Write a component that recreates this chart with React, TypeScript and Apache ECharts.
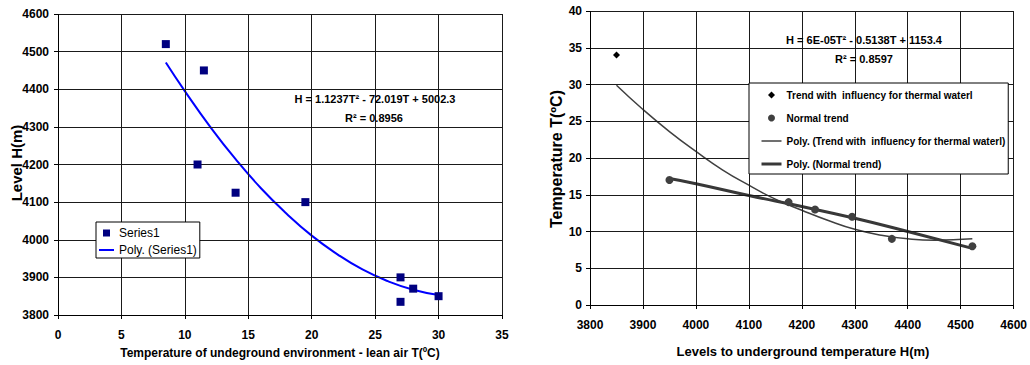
import React, { useEffect, useRef } from "react";
import * as echarts from "echarts";

// ---------- Left chart data ----------
const leftTemp = [8.5, 11.5, 11, 14, 19.5, 27, 27, 28, 30];
const leftLevel = [4520, 4450, 4200, 4125, 4100, 3900, 3835, 3870, 3850];
const leftTrendT = [8.5, 10, 12, 14, 16, 18, 20, 22, 24, 26, 28, 30];
const leftTrendH = [4471, 4395, 4300, 4214, 4137, 4070, 4011, 3962, 3921, 3890, 3867, 3853];
const leftXTicks = [0, 35, 5];
const leftYTicks = [3800, 4600, 100];

// ---------- Right chart data ----------
const thermalLevel = [3850];
const thermalTemp = [34];
const normalLevel = [3950, 4175, 4225, 4295, 4370, 4522];
const normalTemp = [17, 14, 13, 12, 9, 8];
const thermalTrendH = [3850, 3900, 3950, 4000, 4050, 4100, 4150, 4200, 4250, 4300, 4350, 4400, 4450, 4522];
const thermalTrendT = [29.9, 26.6, 23.6, 20.9, 18.4, 16.3, 14.4, 12.9, 11.5, 10.3, 9.5, 9.0, 8.8, 9.0];
const normalTrendH = [3950, 4000, 4100, 4200, 4300, 4400, 4522];
const normalTrendT = [17.2, 16.5, 14.9, 13.4, 11.8, 10.0, 7.7];
const rightXTicks = [3800, 4600, 100];
const rightYTicks = [0, 40, 5];

const FONT = "'Liberation Sans', Arial, sans-serif";
const GRID_COLOR = "#1a1a1a";
const AXIS_COLOR = "#000000";

const zip = (a: number[], b: number[]) => a.map((v, i) => [v, b[i]]);

function axis(gridIndex: number, ticks: number[], labelMargin: number) {
  return {
    type: "value",
    gridIndex,
    z: 4,
    min: ticks[0],
    max: ticks[1],
    interval: ticks[2],
    axisLine: { show: true, onZero: false, lineStyle: { color: AXIS_COLOR, width: 1, opacity: 1 } },
    axisTick: { show: true, length: 4, lineStyle: { color: AXIS_COLOR, opacity: 1 } },
    axisLabel: {
      margin: labelMargin,
      fontSize: 12,
      fontWeight: "bold",
      color: "#000",
      fontFamily: FONT,
      formatter: (v: number) => String(v),
    },
    splitLine: { show: true, lineStyle: { color: GRID_COLOR, width: 1, opacity: 1 } },
  };
}

const hiddenSymbol = { color: "rgba(0,0,0,0)", borderWidth: 0, opacity: 0 };
const SQUARE = "path://M0,0L10,0L10,10L0,10Z";
const DIAMOND = "path://M5,0L10,5L5,10L0,5Z";

export default function App() {
  const ref = useRef<HTMLDivElement>(null);
  useEffect(() => {
    if (!ref.current) return;
    const chart = echarts.init(ref.current, undefined, { renderer: "svg" });
    const boldText = (text: string, x: number, y: number, size: number, rot = 0) => ({
      type: "text",
      x,
      y,
      rotation: rot,
      z: 10,
      style: {
        text,
        fill: "#000",
        font: `bold ${size}px ${FONT}`,
        align: "center",
        verticalAlign: "middle",
      },
    });
    const option = {
      animation: false,
      backgroundColor: "#fff",
      grid: [
        { left: 58, top: 14, width: 444, height: 301 },
        { left: 590, top: 11, width: 426, height: 294 },
      ],
      xAxis: [axis(0, leftXTicks, 14), axis(1, rightXTicks, 14)],
      yAxis: [axis(0, leftYTicks, 9), axis(1, rightYTicks, 8)],
      legend: [
        {
          data: [
            { name: "Series1", icon: SQUARE },
            { name: "Poly. (Series1)", itemStyle: hiddenSymbol, lineStyle: { width: 2 } },
          ],
          orient: "vertical",
          left: 96,
          top: 222,
          z: 10,
          padding: [5, 3, 2, 2],
          itemGap: 5,
          itemWidth: 15,
          itemHeight: 7,
          borderColor: "#000",
          borderWidth: 1,
          backgroundColor: "#fff",
          textStyle: { fontSize: 12, color: "#000", fontFamily: FONT },
        },
        {
          data: [
            { name: "Trend with  influency for thermal waterl", icon: DIAMOND },
            { name: "Normal trend", icon: "circle" },
            {
              name: "Poly. (Trend with  influency for thermal waterl)",
              itemStyle: hiddenSymbol,
              lineStyle: { width: 1.5 },
            },
            { name: "Poly. (Normal trend)", itemStyle: hiddenSymbol, lineStyle: { width: 3 } },
          ],
          orient: "vertical",
          left: 749,
          top: 83,
          z: 10,
          padding: [7, 3, 5, 11],
          itemGap: 13,
          itemWidth: 20,
          itemHeight: 7,
          borderColor: "#000",
          borderWidth: 1,
          backgroundColor: "#fff",
          textStyle: { fontSize: 10, fontWeight: "bold", color: "#000", fontFamily: FONT },
        },
      ],
      series: [
        {
          name: "Series1",
          type: "scatter",
          xAxisIndex: 0,
          yAxisIndex: 0,
          symbol: "rect",
          symbolSize: 8,
          itemStyle: { color: "#000080", opacity: 1 },
          data: zip(leftTemp, leftLevel),
          z: 5,
        },
        {
          name: "Poly. (Series1)",
          type: "line",
          xAxisIndex: 0,
          yAxisIndex: 0,
          symbol: "none",
          smooth: true,
          lineStyle: { color: "#0000ff", width: 2, opacity: 1 },
          itemStyle: { color: "#0000ff" },
          data: zip(leftTrendT, leftTrendH),
          z: 3,
        },
        {
          name: "Trend with  influency for thermal waterl",
          type: "scatter",
          xAxisIndex: 1,
          yAxisIndex: 1,
          symbol: "diamond",
          symbolSize: 7,
          itemStyle: { color: "#000", opacity: 1 },
          data: zip(thermalLevel, thermalTemp),
          z: 5,
        },
        {
          name: "Normal trend",
          type: "scatter",
          xAxisIndex: 1,
          yAxisIndex: 1,
          symbol: "circle",
          symbolSize: 8,
          itemStyle: { color: "#404040", opacity: 1 },
          data: zip(normalLevel, normalTemp),
          z: 5,
        },
        {
          name: "Poly. (Trend with  influency for thermal waterl)",
          type: "line",
          xAxisIndex: 1,
          yAxisIndex: 1,
          symbol: "none",
          smooth: true,
          lineStyle: { color: "#404040", width: 1.5, opacity: 1 },
          itemStyle: { color: "#404040" },
          data: zip(thermalTrendH, thermalTrendT),
          z: 3,
        },
        {
          name: "Poly. (Normal trend)",
          type: "line",
          xAxisIndex: 1,
          yAxisIndex: 1,
          symbol: "none",
          smooth: true,
          lineStyle: { color: "#383838", width: 3, opacity: 1 },
          itemStyle: { color: "#383838" },
          data: zip(normalTrendH, normalTrendT),
          z: 3,
        },
      ],
      graphic: [
        boldText("Temperature of undeground environment - lean air T(ºC)", 280, 353, 12),
        boldText("Level H(m)", 16, 163, 15, Math.PI / 2),
        boldText("H = 1.1237T² - 72.019T + 5002.3", 375, 99, 11),
        boldText("R² = 0.8956", 374, 118, 11),
        boldText("Levels to underground temperature H(m)", 803, 351, 13),
        boldText("Temperature T(ºC)", 556, 159, 16, Math.PI / 2),
        boldText("H = 6E-05T² - 0.5138T + 1153.4", 864, 40, 11),
        boldText("R² = 0.8597", 864, 59, 11),
      ],
    };
    chart.setOption(option as any);
    return () => chart.dispose();
  }, []);
  return (
    <>
      <style>{`
        svg path[stroke="${GRID_COLOR}"], svg path[stroke="${AXIS_COLOR}"] { shape-rendering: crispEdges; }
      `}</style>
      <div
        ref={ref}
        style={{ position: "absolute", left: 0, top: 0, width: 1030, height: 365, background: "#fff" }}
      />
    </>
  );
}
